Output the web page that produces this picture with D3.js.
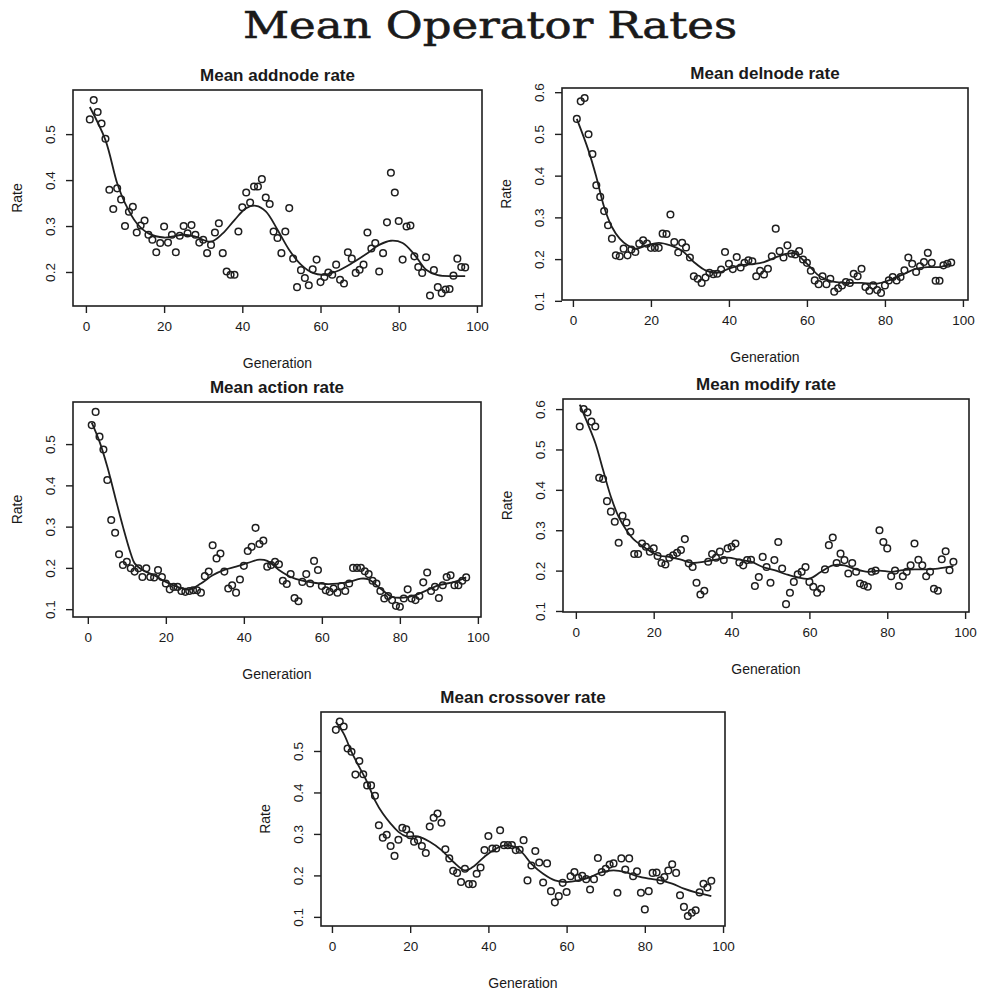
<!DOCTYPE html>
<html>
<head>
<meta charset="utf-8">
<script src="https://cdn.jsdelivr.net/npm/d3@7"></script>
<style>
body { margin: 0; background: #fff; }
text { fill: #1a1a1a; }
</style>
</head>
<body>
<svg id="chart" width="984" height="991"></svg>
<script>
// tick labels shared by every panel
var xTicks = [0, 20, 40, 60, 80, 100];

var titles = ["Mean addnode rate", "Mean delnode rate", "Mean action rate",
	"Mean modify rate", "Mean crossover rate"];

// mean rate per generation (generation 1..97)
var addnodeRate = [0.532,0.574,0.548,0.523,0.490,0.379,0.337,0.382,0.358,0.300,
	0.331,0.342,0.286,0.301,0.312,0.281,0.270,0.243,0.263,0.299,
	0.264,0.281,0.243,0.279,0.300,0.284,0.302,0.281,0.264,0.270,
	0.241,0.259,0.286,0.306,0.241,0.201,0.194,0.194,0.288,0.341,
	0.373,0.351,0.386,0.386,0.402,0.362,0.348,0.288,0.274,0.241,
	0.288,0.339,0.229,0.167,0.204,0.187,0.171,0.206,0.227,0.178,
	0.189,0.199,0.194,0.216,0.183,0.175,0.243,0.229,0.198,0.205,
	0.216,0.286,0.251,0.263,0.201,0.241,0.308,0.416,0.373,0.311,
	0.227,0.299,0.301,0.234,0.211,0.198,0.232,0.149,0.204,0.167,
	0.154,0.162,0.163,0.192,0.229,0.211,0.210];

var delnodeRate = [0.536,0.578,0.586,0.499,0.452,0.377,0.349,0.315,0.281,0.249,
	0.209,0.207,0.225,0.209,0.223,0.217,0.237,0.245,0.237,0.227,
	0.227,0.227,0.261,0.260,0.307,0.241,0.216,0.239,0.228,0.204,
	0.159,0.153,0.143,0.156,0.167,0.164,0.165,0.175,0.217,0.189,
	0.176,0.205,0.180,0.191,0.197,0.195,0.159,0.172,0.163,0.177,
	0.207,0.273,0.219,0.204,0.233,0.213,0.211,0.219,0.199,0.191,
	0.172,0.149,0.140,0.159,0.140,0.153,0.122,0.130,0.137,0.145,
	0.143,0.165,0.159,0.177,0.133,0.124,0.137,0.126,0.119,0.137,
	0.149,0.157,0.149,0.157,0.173,0.204,0.189,0.169,0.183,0.193,
	0.215,0.191,0.148,0.148,0.185,0.189,0.192];

var actionRate = [0.546,0.578,0.518,0.487,0.413,0.316,0.285,0.233,0.207,0.215,
	0.199,0.191,0.199,0.178,0.199,0.178,0.177,0.195,0.178,0.162,
	0.148,0.154,0.154,0.144,0.142,0.144,0.146,0.146,0.140,0.180,
	0.191,0.255,0.223,0.235,0.191,0.150,0.158,0.140,0.172,0.205,
	0.241,0.251,0.297,0.258,0.266,0.203,0.207,0.215,0.209,0.169,
	0.161,0.185,0.127,0.119,0.166,0.185,0.162,0.217,0.195,0.156,
	0.146,0.142,0.150,0.140,0.156,0.144,0.162,0.200,0.200,0.200,
	0.192,0.185,0.169,0.162,0.144,0.126,0.132,0.122,0.108,0.106,
	0.126,0.148,0.126,0.122,0.132,0.165,0.189,0.144,0.154,0.127,
	0.158,0.178,0.182,0.158,0.158,0.169,0.177];

var modifyRate = [0.557,0.600,0.592,0.569,0.557,0.430,0.427,0.372,0.346,0.321,
	0.269,0.336,0.319,0.296,0.241,0.241,0.267,0.259,0.247,0.255,
	0.236,0.219,0.215,0.232,0.238,0.244,0.251,0.278,0.218,0.209,
	0.170,0.141,0.150,0.222,0.241,0.232,0.247,0.226,0.255,0.259,
	0.267,0.220,0.213,0.226,0.227,0.162,0.184,0.234,0.209,0.170,
	0.226,0.271,0.205,0.117,0.145,0.172,0.191,0.197,0.209,0.172,
	0.160,0.145,0.155,0.203,0.263,0.282,0.219,0.242,0.226,0.193,
	0.219,0.197,0.168,0.164,0.160,0.197,0.200,0.300,0.271,0.255,
	0.186,0.200,0.162,0.186,0.197,0.213,0.267,0.227,0.213,0.186,
	0.197,0.155,0.150,0.228,0.248,0.201,0.222];

var crossoverRate = [0.551,0.571,0.559,0.506,0.498,0.443,0.476,0.444,0.417,0.417,
	0.392,0.321,0.291,0.298,0.271,0.247,0.286,0.315,0.311,0.297,
	0.281,0.285,0.271,0.254,0.318,0.339,0.349,0.327,0.263,0.241,
	0.211,0.206,0.184,0.216,0.179,0.179,0.204,0.219,0.261,0.295,
	0.265,0.265,0.309,0.273,0.273,0.273,0.261,0.262,0.285,0.188,
	0.224,0.259,0.231,0.183,0.229,0.162,0.135,0.150,0.182,0.160,
	0.198,0.208,0.194,0.199,0.191,0.166,0.191,0.242,0.208,0.216,
	0.226,0.229,0.158,0.241,0.214,0.241,0.198,0.210,0.158,0.118,
	0.162,0.206,0.207,0.188,0.196,0.212,0.227,0.206,0.152,0.124,
	0.102,0.110,0.116,0.159,0.180,0.171,0.187];

// smoothed trend, read at a few generations along each curve
var addnodeFitGen = [1,5,8,10,13,16,20,25,28,32,35,38,41,43.5,46,49,52,55,58,61,64,68,72,75,78,81,84,87,90,94,97];
var addnodeFit = [0.559,0.487,0.393,0.350,0.306,0.284,0.275,0.281,0.277,0.266,0.284,0.313,0.339,0.344,0.332,0.292,
	0.248,0.216,0.198,0.194,0.201,0.219,0.241,0.259,0.268,0.263,0.238,0.205,0.193,0.191,0.191];

var delnodeFitGen = [1,4,6,8,10,12,14,16,19,22,25,28,31,34,37,40,43,46,49,52,55,57,60,63,66,70,74,78,81,85,88,91,94,97];
var delnodeFit = [0.536,0.460,0.397,0.325,0.277,0.249,0.233,0.225,0.233,0.239,0.233,0.220,0.193,0.173,0.167,0.177,
	0.185,0.188,0.193,0.204,0.213,0.213,0.189,0.161,0.148,0.143,0.143,0.141,0.149,0.165,0.177,0.181,0.181,0.189];

var actionFitGen = [1,3,5,7,9,11,12,14,17,20,23,26,29,32,35,38,41,44,46,49,52,55,58,61,64,67,70,72,75,78,81,84,87,90,94,97];
var actionFit = [0.552,0.506,0.445,0.372,0.300,0.235,0.211,0.195,0.182,0.166,0.154,0.148,0.162,0.182,0.195,0.203,
	0.212,0.220,0.217,0.195,0.178,0.169,0.164,0.161,0.162,0.166,0.174,0.172,0.150,0.130,0.128,0.134,0.146,0.158,0.166,0.177];

var modifyFitGen = [1,3,5,7,9,11,13,15,18,21,24,27,30,33,36,39,42,45,48,51,54,57,60,63,66,69,72,75,78,81,84,87,90,93,97];
var modifyFit = [0.611,0.565,0.516,0.449,0.383,0.333,0.300,0.276,0.255,0.238,0.234,0.227,0.219,0.222,0.227,0.232,
	0.227,0.222,0.209,0.201,0.191,0.183,0.180,0.197,0.213,0.213,0.203,0.197,0.200,0.197,0.201,0.203,0.203,0.205,0.211];

var crossoverFitGen = [1,3,5,7,9,11,13,15,17,19,22,25,28,31,34,36,39,42,45,48,51,54,57,60,63,66,69,72,75,78,81,84,87,90,93,97];
var crossoverFit = [0.570,0.542,0.498,0.461,0.425,0.381,0.349,0.325,0.305,0.294,0.294,0.281,0.261,0.233,0.212,0.220,
	0.245,0.265,0.273,0.261,0.228,0.204,0.188,0.184,0.188,0.196,0.208,0.212,0.208,0.198,0.192,0.188,0.180,0.168,0.159,0.150];

// y tick labels of each panel
var addnodeTicks = [0.2, 0.3, 0.4, 0.5];
var delnodeTicks = [0.1, 0.2, 0.3, 0.4, 0.5, 0.6];
var actionTicks = [0.1, 0.2, 0.3, 0.4, 0.5];
var modifyTicks = [0.1, 0.2, 0.3, 0.4, 0.5, 0.6];
var crossoverTicks = [0.1, 0.2, 0.3, 0.4, 0.5];

// panel placement: plot box [left, top, right, bottom] and the values at its edges
var panels = [
	{rate: addnodeRate, fitGen: addnodeFitGen, fit: addnodeFit, yTicks: addnodeTicks,
		box: [73, 90, 482, 306], xDom: [-3.3, 101.3], yDom: [0.126, 0.596]},
	{rate: delnodeRate, fitGen: delnodeFitGen, fit: delnodeFit, yTicks: delnodeTicks,
		box: [562, 88, 968, 300], xDom: [-2.8, 101.3], yDom: [0.102, 0.610]},
	{rate: actionRate, fitGen: actionFitGen, fit: actionFit, yTicks: actionTicks,
		box: [73, 402, 481, 617], xDom: [-3.8, 100.8], yDom: [0.081, 0.602]},
	{rate: modifyRate, fitGen: modifyFitGen, fit: modifyFit, yTicks: modifyTicks,
		box: [563, 399, 969, 612], xDom: [-3.3, 101.0], yDom: [0.0975, 0.625]},
	{rate: crossoverRate, fitGen: crossoverFitGen, fit: crossoverFit, yTicks: crossoverTicks,
		box: [321, 712, 725, 926], xDom: [-2.8, 100.5], yDom: [0.078, 0.594]}
];

var ink = "#1f1f1f";
var svg = d3.select("#chart");

svg.append("text")
	.attr("x", 490)
	.attr("y", 38)
	.attr("text-anchor", "middle")
	.attr("textLength", 494)
	.attr("lengthAdjust", "spacingAndGlyphs")
	.style("font-family", "'DejaVu Serif', serif")
	.style("font-size", "38px")
	.style("stroke", "#1a1a1a")
	.style("stroke-width", 0.6)
	.text("Mean Operator Rates");

panels.forEach(function(p, k){
	var b = p.box;
	var x = d3.scaleLinear().domain(p.xDom).range([b[0], b[2]]);
	var y = d3.scaleLinear().domain(p.yDom).range([b[3], b[1]]);
	var g = svg.append("g");
	var cx = (b[0] + b[2]) / 2, cy = (b[1] + b[3]) / 2;

	g.append("rect")
		.attr("x", b[0]).attr("y", b[1])
		.attr("width", b[2] - b[0]).attr("height", b[3] - b[1])
		.attr("fill", "none")
		.attr("stroke", ink)
		.attr("stroke-width", 1.6);

	// x axis
	var xa = g.append("g")
		.attr("transform", "translate(0," + b[3] + ")")
		.call(d3.axisBottom(x).tickValues(xTicks).tickSize(7).tickPadding(8));
	xa.select(".domain").remove();
	xa.selectAll("line").attr("stroke", ink).attr("stroke-width", 1.4);
	xa.selectAll("text")
		.style("font-family", "'Liberation Sans', Arial, sans-serif")
		.style("font-size", "13.5px")
		.attr("fill", "#1a1a1a");

	// y axis, labels turned like R does
	var ya = g.append("g")
		.attr("transform", "translate(" + b[0] + ",0)")
		.call(d3.axisLeft(y).tickValues(p.yTicks).tickSize(7).tickFormat(d3.format(".1f")));
	ya.select(".domain").remove();
	ya.selectAll("line").attr("stroke", ink).attr("stroke-width", 1.4);
	ya.selectAll("text")
		.attr("x", 0).attr("y", 0).attr("dy", null)
		.attr("text-anchor", "middle")
		.attr("transform", "translate(-23,0) rotate(-90) translate(0,5)")
		.style("font-family", "'Liberation Sans', Arial, sans-serif")
		.style("font-size", "13.5px")
		.attr("fill", "#1a1a1a");

	g.append("text")
		.attr("x", cx).attr("y", b[1] - 9)
		.attr("text-anchor", "middle")
		.style("font-family", "'Liberation Sans', Arial, sans-serif")
		.style("font-weight", "bold")
		.style("font-size", "17px")
		.text(titles[k]);

	g.append("text")
		.attr("x", cx).attr("y", b[3] + 62)
		.attr("text-anchor", "middle")
		.style("font-family", "'Liberation Sans', Arial, sans-serif")
		.style("font-size", "14px")
		.text("Generation");

	g.append("text")
		.attr("transform", "translate(" + (b[0] - 51) + "," + cy + ") rotate(-90)")
		.attr("text-anchor", "middle")
		.style("font-family", "'Liberation Sans', Arial, sans-serif")
		.style("font-size", "14px")
		.text("Rate");

	// trend line
	var line = d3.line()
		.x(function(d, i){ return x(p.fitGen[i]); })
		.y(function(d){ return y(d); })
		.curve(d3.curveCatmullRom.alpha(0.5));
	g.append("path")
		.attr("d", line(p.fit))
		.attr("fill", "none")
		.attr("stroke", ink)
		.attr("stroke-width", 1.8);

	// points, one per generation
	g.selectAll("circle")
		.data(p.rate)
		.enter().append("circle")
		.attr("cx", function(d, i){ return x(i + 1); })
		.attr("cy", function(d){ return y(d); })
		.attr("r", 3.3)
		.attr("fill", "none")
		.attr("stroke", ink)
		.attr("stroke-width", 1.5);
});
</script>
</body>
</html>
